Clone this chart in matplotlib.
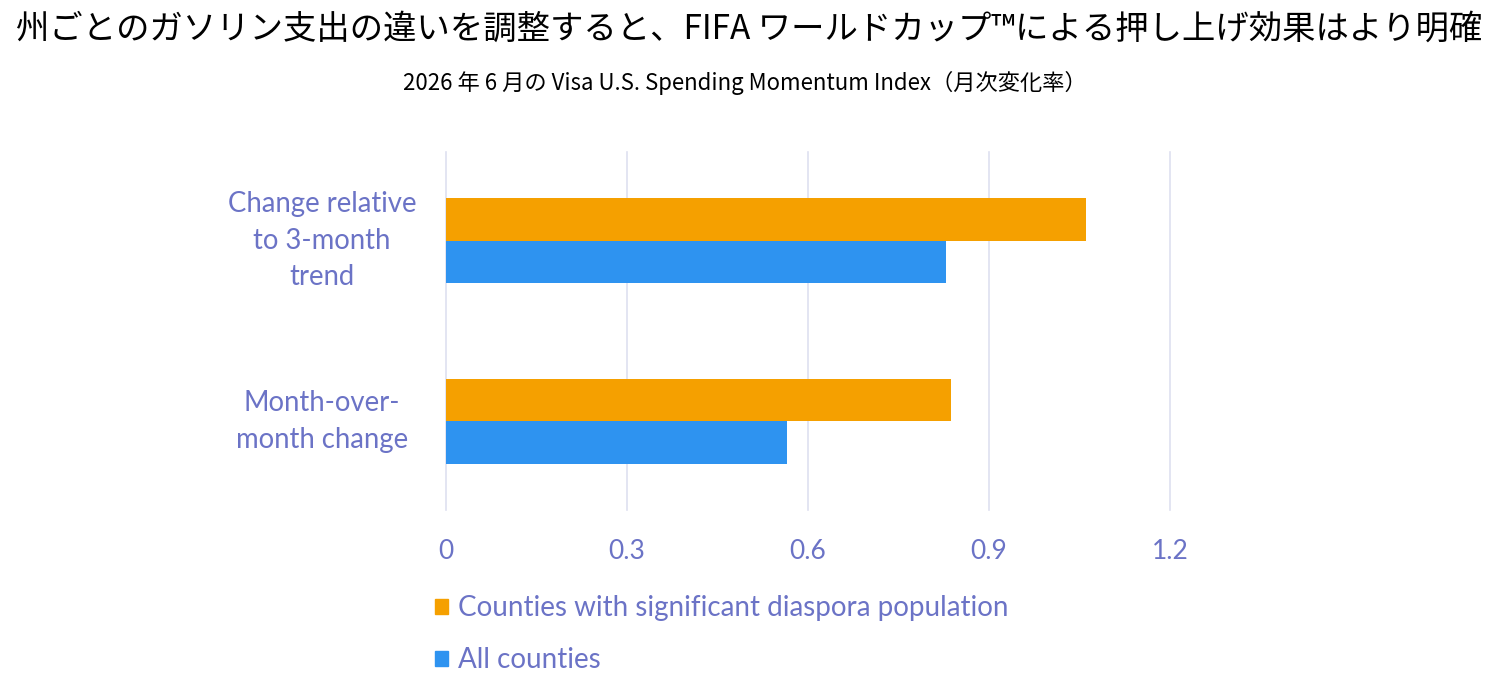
import matplotlib
matplotlib.use('Agg')
import matplotlib.pyplot as plt
from matplotlib.patches import Patch
import numpy as np

# data
categories = ['Month-over-\nmonth change', 'Change relative\nto 3-month\ntrend']
diaspora = [0.837, 1.061]
all_counties = [0.566, 0.829]
series_names = ['Counties with significant diaspora population', 'All counties']
xticks = [0, 0.3, 0.6, 0.9, 1.2]
xticklabels = ['0', '0.3', '0.6', '0.9', '1.2']

title = '州ごとのガソリン支出の違いを調整すると、FIFA ワールドカップ™による押し上げ効果はより明確'
subtitle = '2026 年 6 月の Visa U.S. Spending Momentum Index（月次変化率）'

orange = '#F5A000'
blue = '#2E93F0'
txt = '#6B73C6'
grid = '#DEE0F0'
jp = ['Noto Sans CJK JP', 'DejaVu Sans']
latin = ['Lato', 'DejaVu Sans']

W, H = 1500, 696
fig = plt.figure(figsize=(W / 100, H / 100), dpi=100)
ax = fig.add_axes([446 / W, 1 - 510 / H, (1170 - 446) / W, (510 - 152) / H])

y = np.arange(len(categories))
h = 0.237
ax.barh(y + h / 2, diaspora, height=h, color=orange, label=series_names[0])
ax.barh(y - h / 2, all_counties, height=h, color=blue, label=series_names[1])

ax.set_xlim(0, 1.2)
ax.set_ylim(-0.49, 1.49)
ax.set_xticks(xticks)
ax.set_xticklabels(xticklabels, family=latin, fontsize=19, color=txt)
ax.set_yticks([])
ax.tick_params(axis='x', length=0, pad=21)
ax.grid(axis='x', color=grid, linewidth=1.2)
ax.set_axisbelow(True)
for gl in ax.get_xgridlines():
    gl.set_clip_on(False)
for s in ax.spines.values():
    s.set_visible(False)

# category labels, centred multi-line
tr = matplotlib.transforms.blended_transform_factory(fig.transFigure, ax.transData)
for yi, lab in zip(y, categories):
    ax.text(322 / W, yi, lab, transform=tr, ha='center', va='center',
            multialignment='center', linespacing=1.5,
            family=latin, fontsize=19.8, color=txt)

fig.text(749 / W, 1 - 29 / H, title, ha='center', va='center',
         family=jp, fontsize=24, color='black')
fig.text(745 / W, 1 - 83 / H, subtitle, ha='center', va='center',
         family=jp, fontsize=16, color='black')

handles = [Patch(color=orange), Patch(color=blue)]
fig.legend(handles, series_names, loc='upper left',
           bbox_to_anchor=(424 / W, 1 - 584 / H), frameon=False,
           prop={'family': latin, 'size': 20}, labelcolor=txt,
           handlelength=0.45, handleheight=0.45, handletextpad=0.36,
           labelspacing=0.95, borderaxespad=0)

fig.savefig('out.png', dpi=100, facecolor='white')
